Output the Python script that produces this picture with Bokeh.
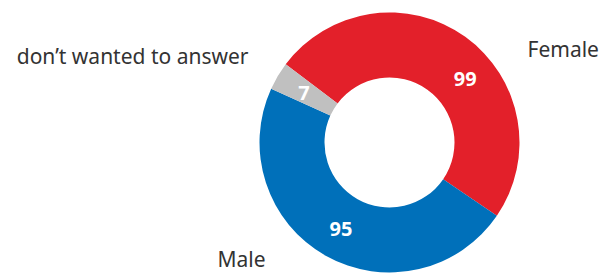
import numpy as np
from bokeh.plotting import figure
from bokeh.models import ColumnDataSource
from bokeh.core.properties import value
from bokeh.embed import file_html
from bokeh.resources import INLINE

categories = ["Female", "Male", "don\u2019t wanted to answer"]
counts = [99, 95, 7]
colors = ["#E3202A", "#0070BA", "#C0C0C0"]

# layout / style constants
W, H = 602, 273
CX, CY = 389, 131          # donut centre in pixel-mapped data units
R_OUT, R_IN = 130, 65
START_DEG = 143.0
LABEL_FRAC = [0.58, 0.5, 0.45]   # where along each slice the value label sits
LABEL_R = 99
FONT = "Noto Sans"

total = sum(counts)
ang = np.array(counts, dtype=float) / total * 2 * np.pi
start = np.deg2rad(START_DEG) - np.concatenate([[0.0], np.cumsum(ang)[:-1]])
end = start - ang
lab_ang = start - np.array(LABEL_FRAC) * ang

src = ColumnDataSource(dict(
    cat=categories, val=[str(v) for v in counts], color=colors,
    start=start, end=end,
    lx=CX + LABEL_R * np.cos(lab_ang), ly=CY + LABEL_R * np.sin(lab_ang),
    x=[CX] * 3, y=[CY] * 3,
))

p = figure(width=W, height=H, x_range=(0, W), y_range=(0, H),
           output_backend="svg", toolbar_location=None,
           x_axis_type=None, y_axis_type=None, min_border=0)
p.grid.visible = False
p.outline_line_color = None
p.background_fill_color = "white"
p.border_fill_color = "white"

p.annular_wedge(x="x", y="y", inner_radius=R_IN, outer_radius=R_OUT,
                inner_radius_units="screen", outer_radius_units="screen",
                start_angle="start", end_angle="end", direction="clock",
                fill_color="color", line_color=None, source=src)

p.text(x="lx", y="ly", text="val", source=src, text_color="white",
       text_font=value(FONT), text_font_style="bold", text_font_size="20px",
       text_align="center", text_baseline="middle")

# outside category labels
out_x = [CX + 138, CX - 172, CX - 141]
out_y = [CY + 94, CY - 116, CY + 87]
out_align = ["left", "left", "right"]
p.text(x=out_x, y=out_y, text=categories, text_color="#333333",
       text_font=value(FONT), text_font_size="21px",
       text_align=out_align, text_baseline="alphabetic")

open("out.html", "w").write(file_html(p, INLINE))
